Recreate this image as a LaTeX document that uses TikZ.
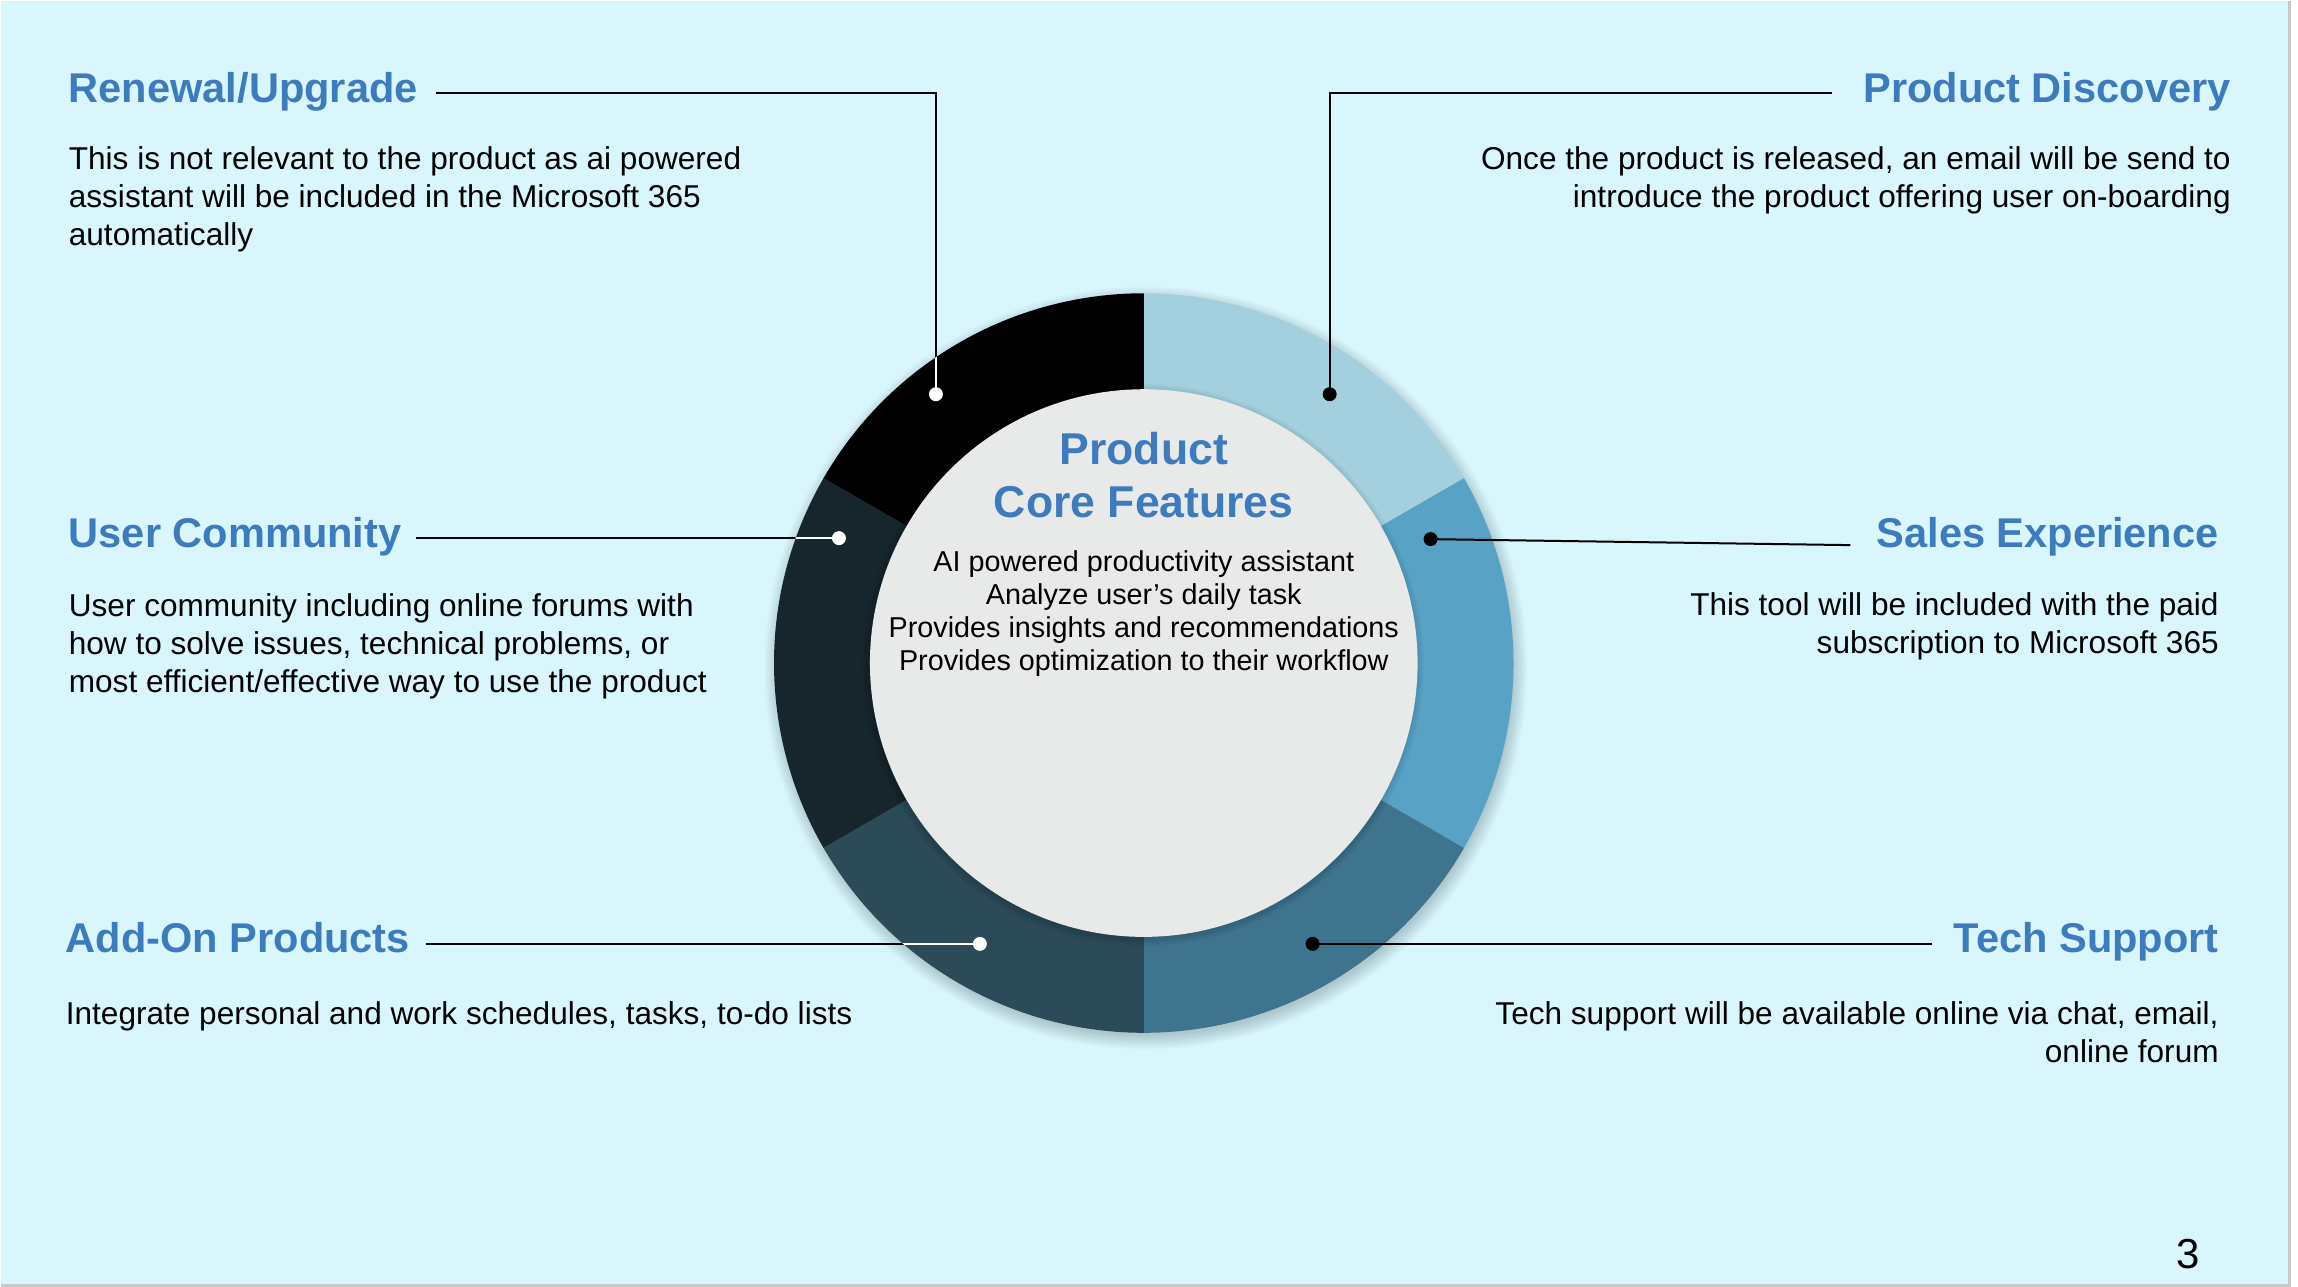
\documentclass[tikz,border=0pt]{standalone}
\usepackage{fontspec}
\setmainfont{Liberation Sans}
\definecolor{bg}{HTML}{D9F6FD}
\definecolor{titleblue}{HTML}{3D7BBF}
\definecolor{segA}{HTML}{A3CFDE}
\definecolor{segB}{HTML}{57A2C5}
\definecolor{segC}{HTML}{3E748D}
\definecolor{segD}{HTML}{2B4B59}
\definecolor{segE}{HTML}{17262C}
\definecolor{core}{HTML}{E8EAEA}
\definecolor{edge}{HTML}{C9C9C9}
\begin{document}
\begin{tikzpicture}[x=0.5pt,y=0.5pt,
  heading/.style={font=\bfseries\fontsize{20.8}{25}\selectfont, text=titleblue, inner sep=0pt},
  bodytext/.style={font=\fontsize{15.8}{19}\selectfont, inner sep=0pt},
  coretitle/.style={font=\bfseries\fontsize{22.3}{26.5}\selectfont, text=titleblue, inner sep=0pt, align=center},
  corebody/.style={font=\fontsize{14.4}{16.5}\selectfont, inner sep=0pt, align=center},
  link/.style={line width=1pt},
  dotw/.style={circle, fill=white, inner sep=0pt, minimum size=7pt},
  dotb/.style={circle, fill=black, inner sep=0pt, minimum size=7pt}]

% page and its edge
\fill[white] (0,0) rectangle (2298,1286);
\fill[bg] (0,2) rectangle (2288,1286);
\draw[edge, line width=1.5pt] (2289,1286) -- (2289,1.5) -- (0,1.5);
\useasboundingbox (0,0) rectangle (2298,1286);

% soft shadow under the ring
\foreach \i in {1,...,12}
  \fill[black, opacity=0.015] (1145,619) circle (366+\i*1.3);

% ring sectors
\begin{scope}[shift={(1143,624)}]
  \fill[segA] (0,0) -- (30:370) arc[start angle=30, end angle=90, radius=370] -- cycle;
  \fill[segB] (0,0) -- (-30:370) arc[start angle=-30, end angle=30, radius=370] -- cycle;
  \fill[segC] (0,0) -- (-90:370) arc[start angle=-90, end angle=-30, radius=370] -- cycle;
  \fill[segD] (0,0) -- (-150:370) arc[start angle=-150, end angle=-90, radius=370] -- cycle;
  \fill[segE] (0,0) -- (150:370) arc[start angle=150, end angle=210, radius=370] -- cycle;
  \fill[black] (0,0) -- (90:370) arc[start angle=90, end angle=150, radius=370] -- cycle;
  \foreach \i in {1,...,6}
    \fill[black, opacity=0.02] (-1,-2) circle (274+\i*1.2);
  \fill[core] (0,0) circle (274);
\end{scope}

% centre text
\node[coretitle, anchor=north] (ctitle) at (1143,855) {Product\\Core Features};
\node[corebody, anchor=north] (cbody) at (1143,737)
  {AI powered productivity assistant\\Analyze user’s daily task\\Provides insights and recommendations\\Provides optimization to their workflow};

% headings
\node[heading, anchor=base west] (tren) at (67,1185) {Renewal/Upgrade};
\node[heading, anchor=base east] (tdis) at (2231,1185) {Product Discovery};
\node[heading, anchor=base west] (tcom) at (67,740) {User Community};
\node[heading, anchor=base east] (tsal) at (2219,740) {Sales Experience};
\node[heading, anchor=base west] (tadd) at (64,334) {Add-On Products};
\node[heading, anchor=base east] (ttec) at (2219,334) {Tech Support};

% descriptions
\node[bodytext, anchor=north west, align=left] (bren) at (67,1141)
  {This is not relevant to the product as ai powered\\assistant will be included in the Microsoft 365\\automatically};
\node[bodytext, anchor=north east, align=right] (bdis) at (2231,1141)
  {Once the product is released, an email will be send to\\introduce the product offering user on-boarding};
\node[bodytext, anchor=north west, align=left] (bcom) at (67,694)
  {User community including online forums with\\how to solve issues, technical problems, or\\most efficient/effective way to use the product};
\node[bodytext, anchor=north east, align=right] (bsal) at (2219,695)
  {This tool will be included with the paid\\subscription to Microsoft 365};
\node[bodytext, anchor=north west, align=left] (badd) at (64,286)
  {Integrate personal and work schedules, tasks, to-do lists};
\node[bodytext, anchor=north east, align=right] (btec) at (2219,286)
  {Tech support will be available online via chat, email,\\online forum};

% connector ends
\coordinate (lren) at (435,1194);
\coordinate (ldis) at (1832,1194);
\coordinate (lcom) at (415,749);
\coordinate (lsal) at (1850,742);
\coordinate (ladd) at (425,343);
\coordinate (ltec) at (1932,343);
\coordinate (pren) at (935,893);
\coordinate (pdis) at (1329,893);
\coordinate (pcom) at (838,749);
\coordinate (psal) at (1430,748);
\coordinate (padd) at (979,343);
\coordinate (ptec) at (1312,343);

% connectors
\draw[link] (lren) -| (pren);
\draw[link] (ldis) -| (pdis);
\draw[link] (lcom) -- (pcom);
\draw[link] (lsal) -- (psal);
\draw[link] (ladd) -- (padd);
\draw[link] (ltec) -- (ptec);
\begin{scope}
  \clip (1143,624) circle (370);
  \draw[link, white] (lren) -| (pren);
  \draw[link, white] (lcom) -- (pcom);
  \draw[link, white] (ladd) -- (padd);
\end{scope}

% anchor dots
\node[dotw] (dren) at (pren) {};
\node[dotb] (ddis) at (pdis) {};
\node[dotw] (dcom) at (pcom) {};
\node[dotb] (dsal) at (psal) {};
\node[dotw] (dadd) at (padd) {};
\node[dotb] (dtec) at (ptec) {};

% page number
\node[font=\fontsize{21}{25}\selectfont, anchor=base, inner sep=0pt] (pnum) at (2188,18) {3};
\end{tikzpicture}
\end{document}
